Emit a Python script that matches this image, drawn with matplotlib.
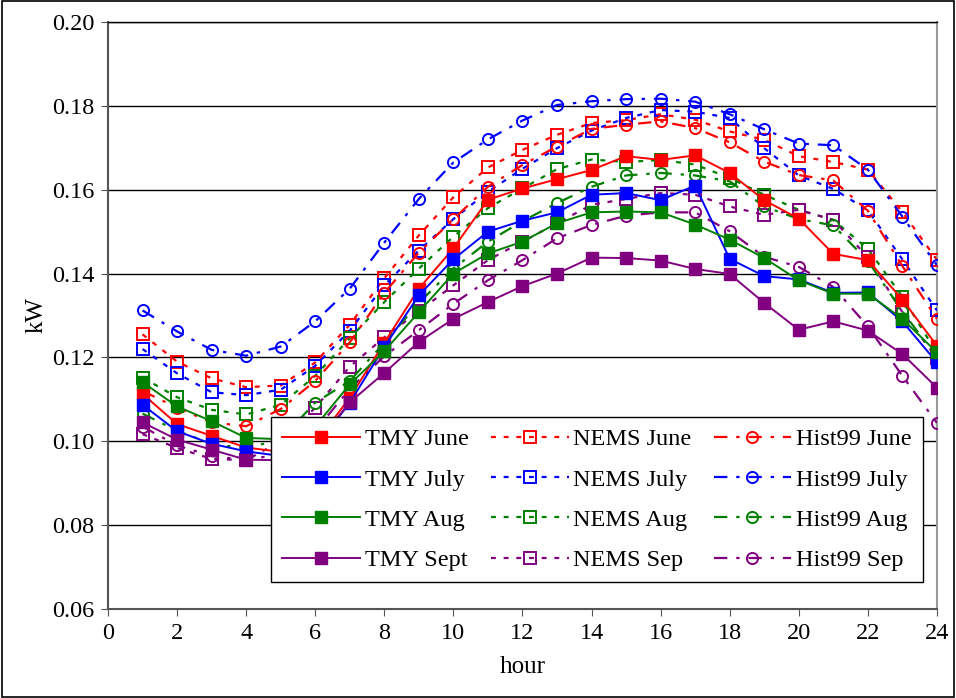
import numpy as np
import matplotlib
matplotlib.use('Agg')
import matplotlib.pyplot as plt
from matplotlib.patches import Rectangle

plt.rcParams['font.family'] = ['Liberation Serif', 'DejaVu Serif']

hours = list(range(1, 25))

# TMY (solid, filled squares)
tmy_june = [0.1113, 0.1041, 0.1013, 0.0985, 0.0975, 0.0995, 0.1104, 0.1235, 0.1364, 0.1460, 0.1576, 0.1603,
            0.1625, 0.1647, 0.1680, 0.1671, 0.1682, 0.1640, 0.1575, 0.1531, 0.1447, 0.1432, 0.1338, 0.1228]
tmy_july = [0.1087, 0.1024, 0.0994, 0.0976, 0.0965, 0.0985, 0.1092, 0.1225, 0.1348, 0.1434, 0.1500, 0.1526,
            0.1546, 0.1588, 0.1592, 0.1575, 0.1610, 0.1435, 0.1394, 0.1386, 0.1354, 0.1355, 0.1286, 0.1188]
tmy_aug = [0.1141, 0.1083, 0.1048, 0.1008, 0.1005, 0.1035, 0.1136, 0.1215, 0.1308, 0.1400, 0.1448, 0.1476,
           0.1520, 0.1546, 0.1548, 0.1546, 0.1517, 0.1481, 0.1437, 0.1384, 0.1352, 0.1352, 0.1292, 0.1212]
tmy_sept = [0.1045, 0.1004, 0.0980, 0.0956, 0.0955, 0.0990, 0.1093, 0.1163, 0.1237, 0.1292, 0.1332, 0.1370,
            0.1400, 0.1438, 0.1437, 0.1431, 0.1411, 0.1399, 0.1330, 0.1266, 0.1286, 0.1264, 0.1208, 0.1128]

# NEMS (dotted, open squares)
nems_june = [0.1255, 0.1190, 0.1150, 0.1129, 0.1133, 0.1188, 0.1278, 0.1389, 0.1491, 0.1582, 0.1653, 0.1695,
             0.1731, 0.1759, 0.1766, 0.1780, 0.1767, 0.1739, 0.1719, 0.1680, 0.1666, 0.1648, 0.1547, 0.1433]
nems_july = [0.1220, 0.1162, 0.1117, 0.1110, 0.1123, 0.1180, 0.1264, 0.1372, 0.1455, 0.1530, 0.1595, 0.1650,
             0.1699, 0.1741, 0.1771, 0.1790, 0.1786, 0.1771, 0.1699, 0.1634, 0.1602, 0.1551, 0.1434, 0.1312]
nems_aug = [0.1152, 0.1105, 0.1075, 0.1064, 0.1087, 0.1156, 0.1246, 0.1332, 0.1412, 0.1488, 0.1556, 0.1603,
            0.1649, 0.1672, 0.1666, 0.1671, 0.1660, 0.1628, 0.1588, 0.1552, 0.1528, 0.1459, 0.1345, 0.1210]
nems_sep = [0.1017, 0.0984, 0.0958, 0.0955, 0.1000, 0.1080, 0.1178, 0.1248, 0.1310, 0.1372, 0.1432, 0.1476,
            0.1520, 0.1564, 0.1578, 0.1592, 0.1588, 0.1560, 0.1540, 0.1552, 0.1528, 0.1439, 0.1308, 0.1198]

# Hist99 (dash-dot, open circles)
hist_june = [0.1120, 0.1080, 0.1045, 0.1036, 0.1077, 0.1144, 0.1236, 0.1354, 0.1450, 0.1530, 0.1607, 0.1659,
             0.1703, 0.1745, 0.1755, 0.1763, 0.1747, 0.1713, 0.1667, 0.1635, 0.1622, 0.1550, 0.1418, 0.1292]
hist_july = [0.1312, 0.1262, 0.1218, 0.1204, 0.1226, 0.1286, 0.1364, 0.1474, 0.1578, 0.1665, 0.1720, 0.1765,
             0.1802, 0.1811, 0.1816, 0.1817, 0.1810, 0.1780, 0.1744, 0.1710, 0.1706, 0.1648, 0.1536, 0.1420]
hist_aug = [0.1066, 0.1025, 0.0994, 0.0983, 0.1005, 0.1092, 0.1144, 0.1235, 0.1330, 0.1412, 0.1476, 0.1525,
            0.1568, 0.1607, 0.1634, 0.1640, 0.1634, 0.1620, 0.1560, 0.1530, 0.1515, 0.1430, 0.1310, 0.1200]
hist_sep = [0.1035, 0.0990, 0.0965, 0.0955, 0.0970, 0.1025, 0.1125, 0.1203, 0.1265, 0.1328, 0.1384, 0.1432,
            0.1484, 0.1516, 0.1538, 0.1546, 0.1546, 0.1501, 0.1440, 0.1416, 0.1368, 0.1274, 0.1156, 0.1044]

labels_tmy = ['TMY June', 'TMY July', 'TMY Aug', 'TMY Sept']
labels_nems = ['NEMS June', 'NEMS July', 'NEMS Aug', 'NEMS Sep']
labels_hist = ['Hist99 June', 'Hist99 July', 'Hist99 Aug', 'Hist99 Sep']
colors = ['#ff0000', '#0000ff', '#008000', '#800080']

fig = plt.figure(figsize=(9.56, 6.98), dpi=100)
ax = fig.add_axes([0.113, 0.1275, 0.867, 0.841])

for ys, lab, c in zip([tmy_june, tmy_july, tmy_aug, tmy_sept], labels_tmy, colors):
    ax.plot(hours, ys, color=c, lw=1.4, marker='s', ms=8.5, mfc=c, mec=c, label=lab, zorder=4)
for ys, lab, c in zip([nems_june, nems_july, nems_aug, nems_sep], labels_nems, colors):
    ax.plot(hours, ys, color=c, lw=1.6, ls=(0, (2.2, 3.5)), marker='s', ms=8, mfc='none', mec=c,
            mew=1.4, label=lab, zorder=3)
for ys, lab, c in zip([hist_june, hist_july, hist_aug, hist_sep], labels_hist, colors):
    ax.plot(hours, ys, color=c, lw=1.6, ls=(0, (6, 4, 1.5, 4)), marker='o', ms=8, mfc='none', mec=c,
            mew=1.4, label=lab, zorder=3)

ax.set_xlim(0, 24)
ax.set_ylim(0.06, 0.20)
ax.set_xticks(range(0, 25, 2))
ax.set_yticks(np.arange(0.06, 0.201, 0.02))
ax.yaxis.set_major_formatter(matplotlib.ticker.FormatStrFormatter('%.2f'))
ax.tick_params(labelsize=17.5, direction='out', length=5, color='#555555', pad=5)
ax.yaxis.grid(True, color='black', lw=1)
ax.set_axisbelow(True)
for s in ['left', 'bottom']:
    ax.spines[s].set_color('#555555')
    ax.spines[s].set_linewidth(1.5)
ax.spines['right'].set_color('#999999')
ax.spines['right'].set_linewidth(1.5)
ax.spines['top'].set_color('black')
ax.spines['top'].set_linewidth(1)
ax.set_xlabel('hour', fontsize=18, labelpad=9)
ax.set_ylabel('kW', fontsize=18, labelpad=3)

leg = ax.legend(ncol=3, loc='lower right', bbox_to_anchor=(0.983, 0.046), fontsize=17.5,
                frameon=True, fancybox=False, edgecolor='black', framealpha=1,
                handlelength=3.2, handletextpad=0.2, columnspacing=0.9, labelspacing=0.75,
                borderpad=0.45, borderaxespad=0)
leg.get_frame().set_linewidth(1)
leg.set_zorder(10)

fig.patches.append(Rectangle((0.002, 0.002), 0.996, 0.996, transform=fig.transFigure,
                             fill=False, edgecolor='black', lw=1.2))

fig.savefig('out.png', dpi=100)
